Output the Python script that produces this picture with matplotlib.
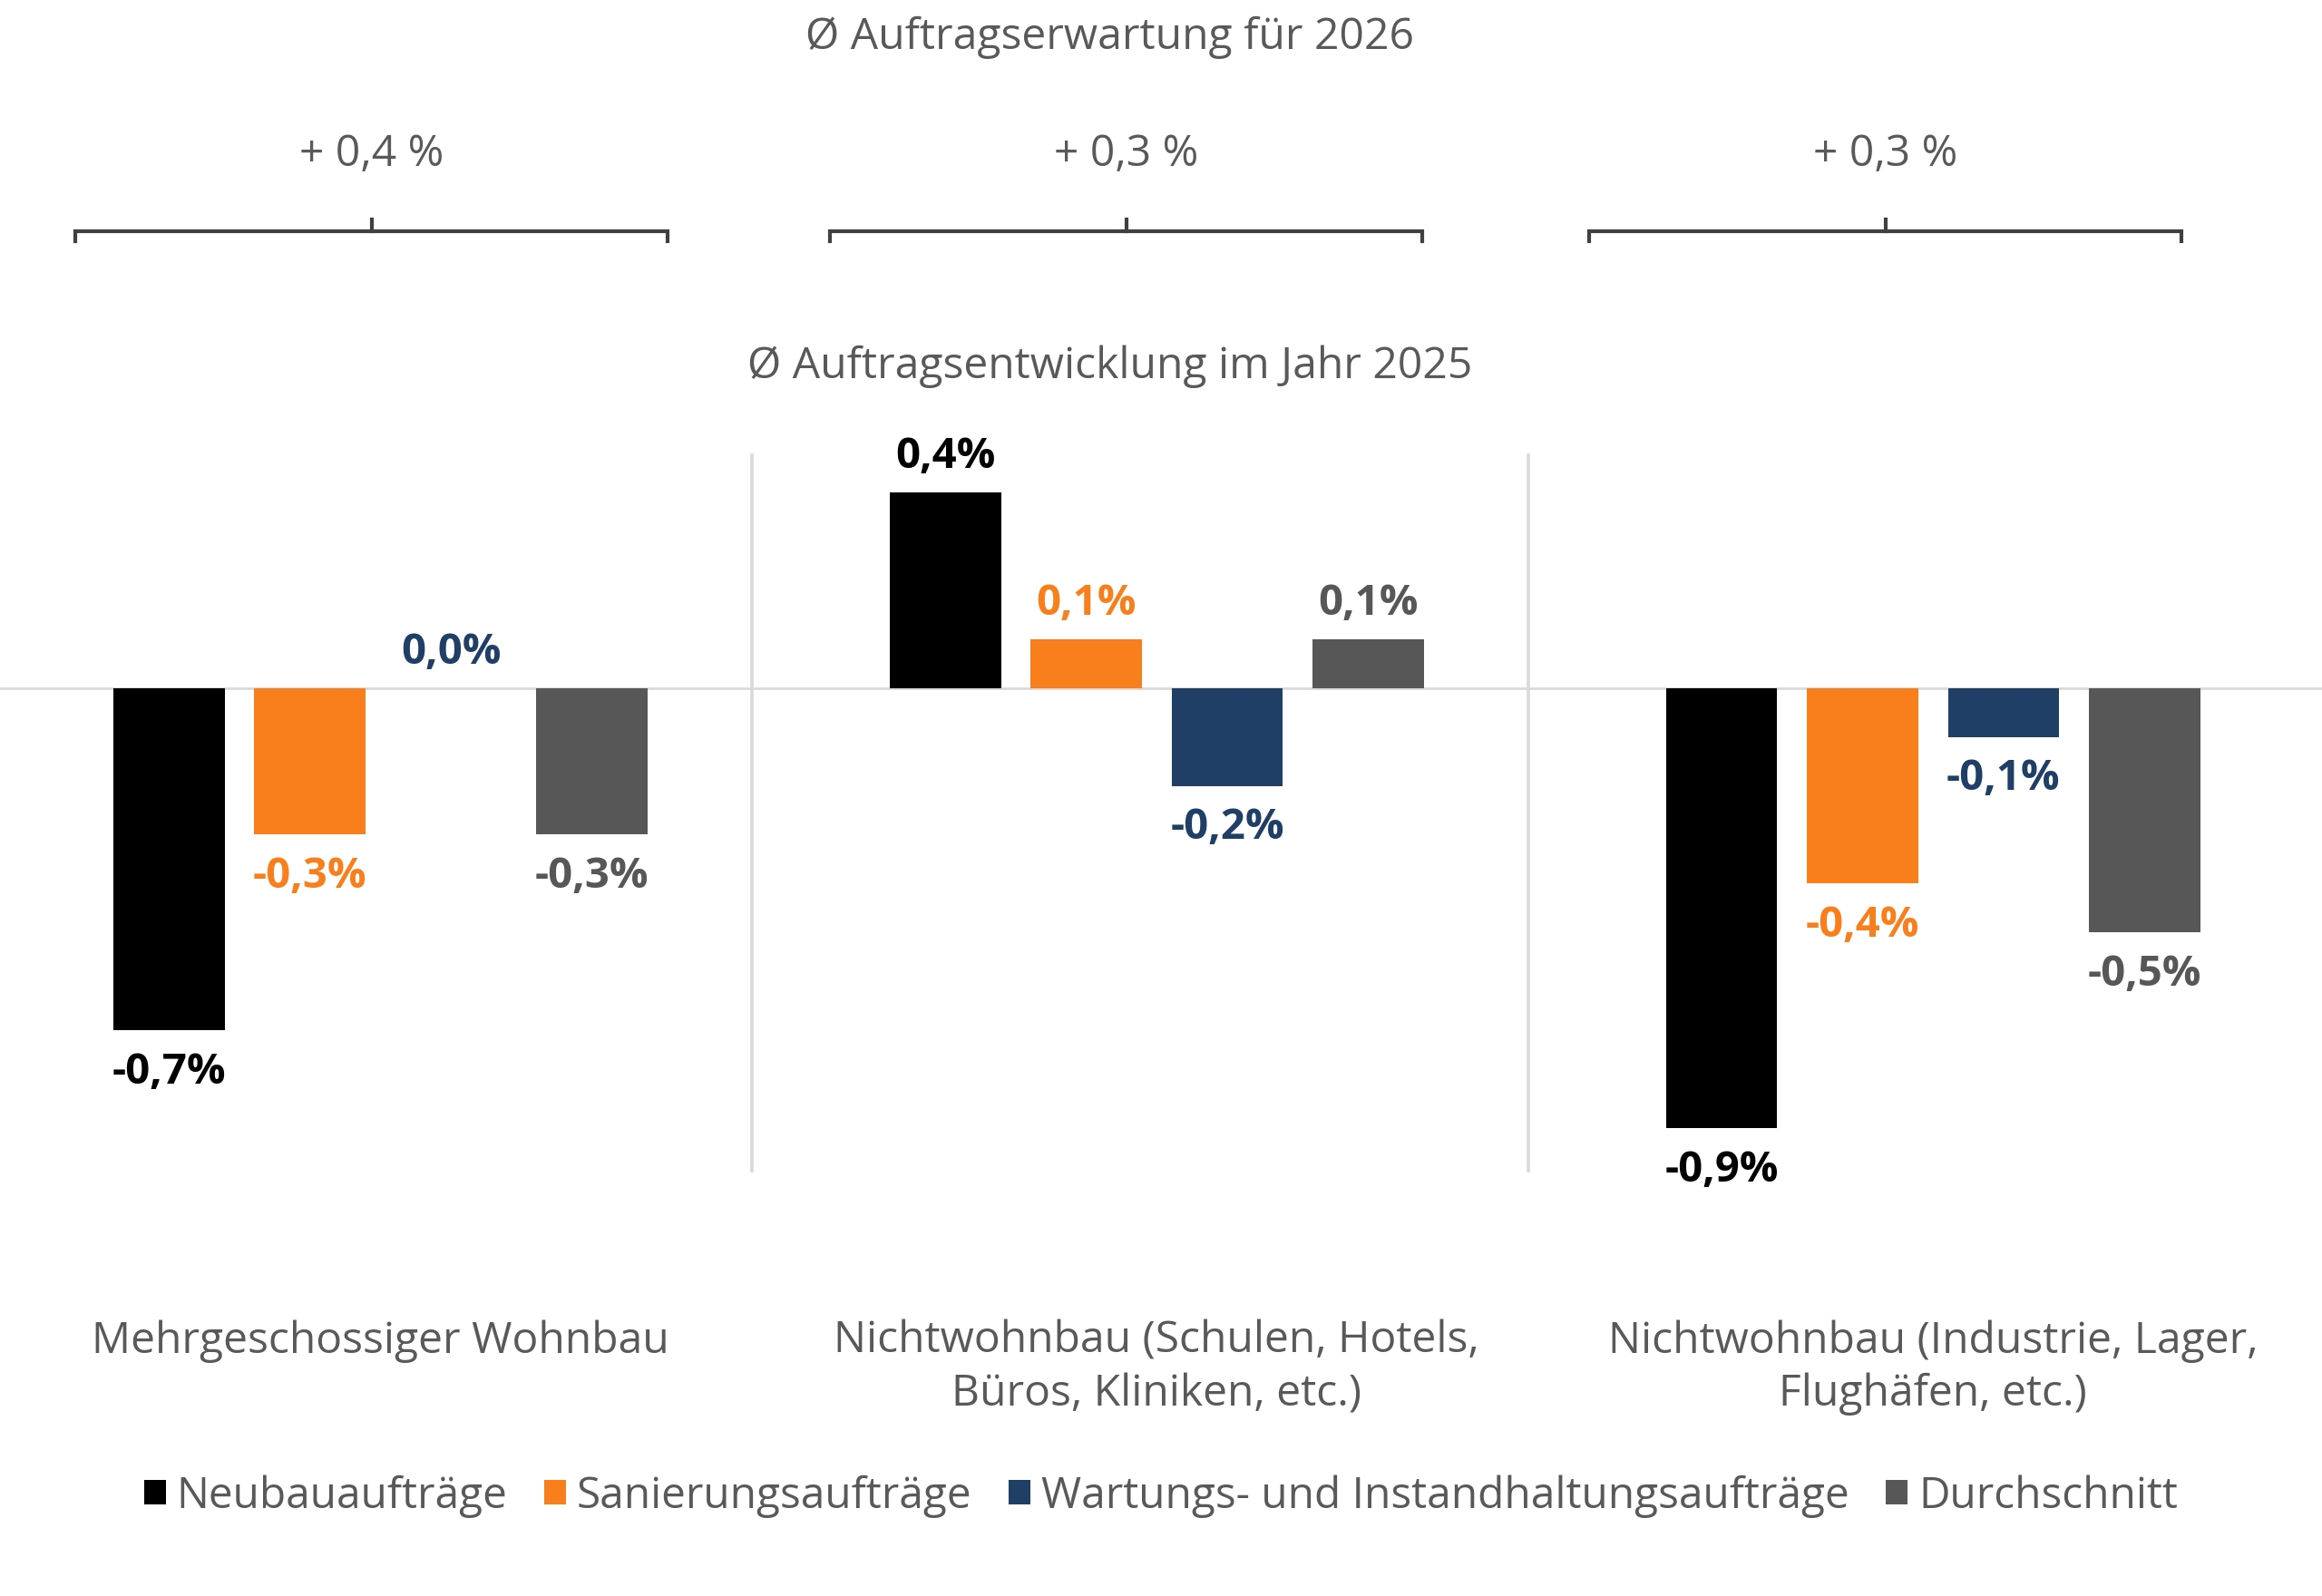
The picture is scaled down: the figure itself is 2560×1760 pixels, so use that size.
import matplotlib.pyplot as plt
import numpy as np
from matplotlib.patches import Patch

categories = [
    "Mehrgeschossiger Wohnbau",
    "Nichtwohnbau (Schulen, Hotels,\nBüros, Kliniken, etc.)",
    "Nichtwohnbau (Industrie, Lager,\nFlughäfen, etc.)",
]
series_names = ["Neubauaufträge", "Sanierungsaufträge",
                "Wartungs- und Instandhaltungsaufträge", "Durchschnitt"]
neubau = [-0.7, 0.4, -0.9]
sanierung = [-0.3, 0.1, -0.4]
wartung = [0.0, -0.2, -0.1]
durchschnitt = [-0.3, 0.1, -0.5]
erwartung_2026 = ["+ 0,4 %", "+ 0,3 %", "+ 0,3 %"]

colors = ["#000000", "#F97F1D", "#1F3F66", "#575757"]
text_gray = "#595959"
font = "Open Sans"

W, H, DPI = 2560, 1760, 200
fig = plt.figure(figsize=(W / DPI, H / DPI), dpi=DPI)
ax = fig.add_axes([0, 0, 1, 1])
ax.set_xlim(-0.49, 2.501)
ax.set_ylim(-1.856, 1.406)
ax.axis("off")

x = np.arange(len(categories))
step, width = 0.1815, 0.1433
all_series = [neubau, sanierung, wartung, durchschnitt]

# zero line and separators
ax.axhline(0, color="#D9D9D9", lw=1.0, zorder=1)
for sep in x[:-1] + 0.4785:
    ax.plot([sep, sep], [-0.987, 0.476], color="#D9D9D9", lw=1.3, zorder=1)

for i, (vals, col) in enumerate(zip(all_series, colors)):
    pos = x + (i - 1.5) * step
    ax.bar(pos, vals, width=width, color=col, zorder=2)
    for px, v in zip(pos, vals):
        off = 14 if v >= 0 else -16.5
        ax.annotate(f"{v:.1f}%".replace(".", ","), (px, v), xytext=(0, off),
                    textcoords="offset points", ha="center", va="center",
                    fontsize=17, fontweight="bold", color=col, family=font)

# category labels
for xi, cat in zip(x, categories):
    ax.text(xi, -1.291, cat, ha="center", va="top", fontsize=17.3,
            color=text_gray, family=font, linespacing=1.3)

# headings
fig.text(0.478, 1 - 41 / H, "Ø Auftragserwartung für 2026", ha="center", va="center",
         fontsize=17.3, color=text_gray, family=font)
fig.text(0.478, 1 - 404 / H, "Ø Auftragsentwicklung im Jahr 2025", ha="center", va="center",
         fontsize=17.3, color=text_gray, family=font)

# brackets for 2026 expectation
bracket_centers = [0.160, 0.485, 0.812]
half = 0.1275
yb, yend, ytick = 1 - 255 / H, 1 - 266 / H, 1 - 242 / H
for bc, lab in zip(bracket_centers, erwartung_2026):
    fig.add_artist(plt.Line2D([bc - half, bc - half, bc + half, bc + half],
                              [yend, yb, yb, yend], color="#404040", lw=1.5,
                              solid_joinstyle="miter"))
    fig.add_artist(plt.Line2D([bc, bc], [yb, ytick], color="#404040", lw=1.5))
    fig.text(bc, 1 - 170 / H, lab, ha="center", va="center", fontsize=17.3,
             color=text_gray, family=font)

handles = [Patch(facecolor=c, label=n) for c, n in zip(colors, series_names)]
leg = fig.legend(handles=handles, loc="center", bbox_to_anchor=(0.5, 1 - 1650 / H),
                 ncol=4, frameon=False, handlelength=0.5,
                 handleheight=0.5, handletextpad=0.25, columnspacing=0.85,
                 prop={"family": font, "size": 17.2})
for t in leg.get_texts():
    t.set_color(text_gray)

fig.savefig("out.png", dpi=DPI)
